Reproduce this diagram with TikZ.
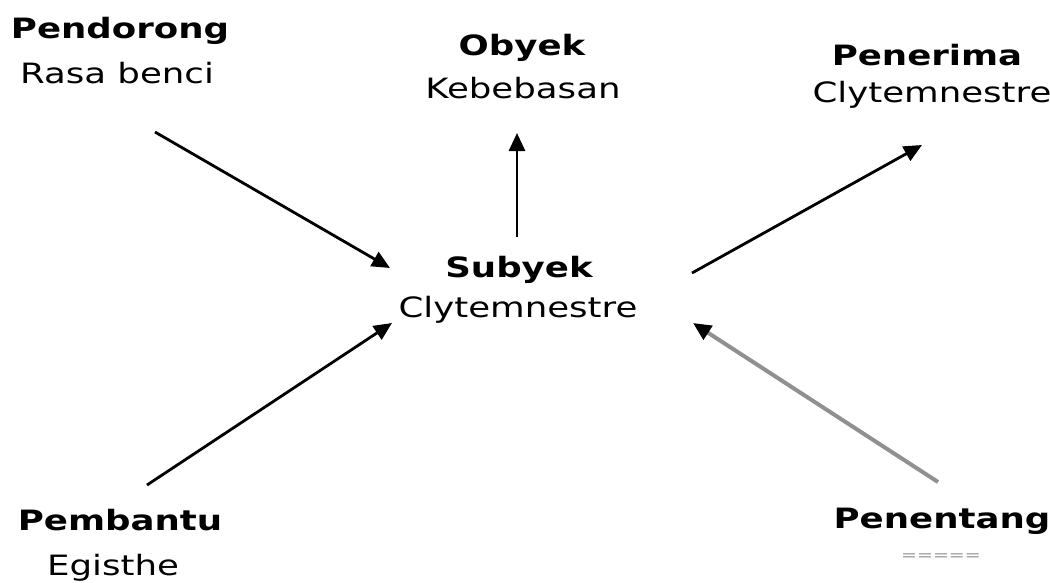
\documentclass[tikz,border=0pt]{standalone}
\usepackage{graphicx}
\usepackage{fontspec}
\setmainfont{DejaVu Sans}
\usetikzlibrary{arrows.meta}

\newcommand{\lebar}[1]{\scalebox{1.27}[1]{#1}}

\begin{document}
\begin{tikzpicture}[x=1pt,y=-1pt,
  peran/.style={anchor=base,inner sep=0pt,font=\bfseries\fontsize{28}{30}\selectfont},
  isi/.style={anchor=base,inner sep=0pt,font=\fontsize{28}{30}\selectfont},
  panah/.style={line width=2.8pt,-{Triangle[length=18pt,width=16pt]}}]
  \useasboundingbox (0,0) rectangle (1050,582);

  % actants
  \node[peran] (pendorong) at (120,38) {\lebar{Pendorong}};
  \node[isi]   (benci)     at (117,83) {\lebar{Rasa benci}};
  \node[peran] (obyek)     at (522,55) {\lebar{Obyek}};
  \node[isi]   (bebas)     at (523,98) {\lebar{Kebebasan}};
  \node[peran] (penerima)  at (927,65) {\lebar{Penerima}};
  \node[isi]   (clyA)      at (932,102) {\lebar{Clytemnestre}};
  \node[peran] (subyek)    at (519,277) {\lebar{Subyek}};
  \node[isi]   (clyB)      at (518,317) {\lebar{Clytemnestre}};
  \node[peran] (pembantu)  at (120,530) {\lebar{Pembantu}};
  \node[isi]   (egisthe)   at (113,575) {\lebar{Egisthe}};
  \node[peran] (penentang) at (942,528) {\lebar{Penentang}};
  \node[isi,font=\itshape\fontsize{15}{16}\selectfont,text=gray!80] (kosong) at (941,560) {\lebar{=====}};

  % arrow ends
  \coordinate (a1) at (155,132);  \coordinate (b1) at (390,268);
  \coordinate (a2) at (147,485);  \coordinate (b2) at (392,323);
  \coordinate (a3) at (692,273);  \coordinate (b3) at (922,145);
  \coordinate (a4) at (938,482);  \coordinate (b4) at (693,323);
  \coordinate (a5) at (517,237);  \coordinate (b5) at (517,133);

  \draw[panah] (a1) -- (b1);
  \draw[panah] (a2) -- (b2);
  \draw[panah] (a3) -- (b3);
  \draw[panah] (a5) -- (b5);
  \draw[panah,gray!55!black!60,line width=4pt,-{Triangle[length=18pt,width=16pt,black]}] (a4) -- (b4);
\end{tikzpicture}
\end{document}
